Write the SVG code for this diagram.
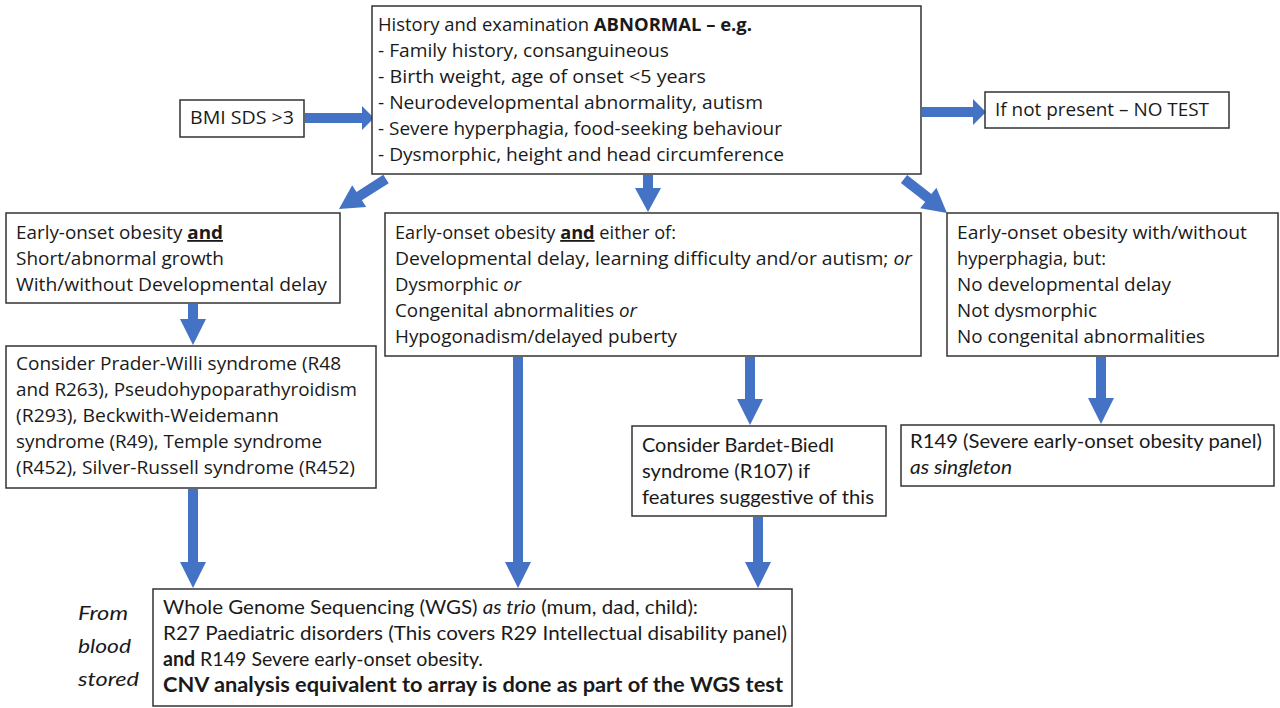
<svg xmlns="http://www.w3.org/2000/svg" width="1280" height="708" viewBox="0 0 1280 708">
<style>
.box{fill:#fff;stroke:#333;stroke-width:1.5}
.t{font-family:"Open Sans","DejaVu Sans",sans-serif;font-size:18px;fill:#1a1a1a}
.c{font-family:Lato,"Open Sans",sans-serif;font-size:20px;fill:#1a1a1a}
.b{font-weight:bold}
.i{font-style:italic}
.u{text-decoration:underline}
.arr{fill:#4472C4}
</style>
<rect width="1280" height="708" fill="#fff"/>
<g id="connectors">
<polygon class="arr" points="305,113 362,113 362,106 374,118 362,130 362,123 305,123"/>
<polygon class="arr" points="922,107 973,107 973,99 986,112 973,125 973,117 922,117"/>
<polygon class="arr" points="388.7,183.2 361.9,200.3 366.2,207 339,209 352.2,185.2 356.5,191.9 383.3,174.8"/>
<polygon class="arr" points="643,175 653,175 653,188 661,188 648,212 635,188 643,188"/>
<polygon class="arr" points="900.9,182.9 925.2,201.9 920.2,208.2 947,213 936.4,187.8 931.4,194.1 907.1,175.1"/>
<polygon class="arr" points="188,304 198,304 198,319 206,319 193,345 180,319 188,319"/>
<polygon class="arr" points="513,357 523,357 523,562 531,562 518,588 505,562 513,562"/>
<polygon class="arr" points="745,357 755,357 755,399 763,399 750,425 737,399 745,399"/>
<polygon class="arr" points="1096,357 1106,357 1106,398 1114,398 1101,424 1088,398 1096,398"/>
<polygon class="arr" points="188,489 198,489 198,562 206,562 193,588 180,562 188,562"/>
<polygon class="arr" points="753,517 763,517 763,562 771,562 758,588 745,562 753,562"/>
</g>
<g id="top">
<rect class="box" x="372" y="6" width="549" height="168"/>
<text class="t" x="378" y="31" textLength="374" lengthAdjust="spacingAndGlyphs">History and examination <tspan class="b">ABNORMAL – e.g.</tspan></text>
<text class="t" x="378" y="57" textLength="291" lengthAdjust="spacingAndGlyphs">- Family history, consanguineous</text>
<text class="t" x="378" y="83" textLength="328" lengthAdjust="spacingAndGlyphs">- Birth weight, age of onset &lt;5 years</text>
<text class="t" x="378" y="109" textLength="385" lengthAdjust="spacingAndGlyphs">- Neurodevelopmental abnormality, autism</text>
<text class="t" x="378" y="135" textLength="404" lengthAdjust="spacingAndGlyphs">- Severe hyperphagia, food-seeking behaviour</text>
<text class="t" x="378" y="161" textLength="406" lengthAdjust="spacingAndGlyphs">- Dysmorphic, height and head circumference</text>
</g>
<g id="bmi">
<rect class="box" x="180" y="100" width="124" height="37"/>
<text class="t" x="190" y="124" textLength="104" lengthAdjust="spacingAndGlyphs">BMI SDS &gt;3</text>
</g>
<g id="notest">
<rect class="box" x="985" y="92" width="244" height="36"/>
<text class="t" x="995" y="116" textLength="214" lengthAdjust="spacingAndGlyphs">If not present – NO TEST</text>
</g>
<g id="left">
<rect class="box" x="6" y="213" width="334" height="90"/>
<text class="t" x="16" y="239" textLength="207" lengthAdjust="spacingAndGlyphs">Early-onset obesity <tspan class="b u">and</tspan></text>
<text class="t" x="16" y="265" textLength="208" lengthAdjust="spacingAndGlyphs">Short/abnormal growth</text>
<text class="t" x="16" y="291" textLength="311" lengthAdjust="spacingAndGlyphs">With/without Developmental delay</text>
</g>
<g id="middle">
<rect class="box" x="385" y="213" width="536" height="143"/>
<text class="t" x="395" y="239" textLength="281" lengthAdjust="spacingAndGlyphs">Early-onset obesity <tspan class="b u">and</tspan> either of:</text>
<text class="t" x="395" y="265" textLength="517" lengthAdjust="spacingAndGlyphs">Developmental delay, learning difficulty and/or autism; <tspan class="i">or</tspan></text>
<text class="t" x="395" y="291" textLength="126" lengthAdjust="spacingAndGlyphs">Dysmorphic <tspan class="i">or</tspan></text>
<text class="t" x="395" y="317" textLength="242" lengthAdjust="spacingAndGlyphs">Congenital abnormalities <tspan class="i">or</tspan></text>
<text class="t" x="395" y="343" textLength="282" lengthAdjust="spacingAndGlyphs">Hypogonadism/delayed puberty</text>
</g>
<g id="right">
<rect class="box" x="947" y="213" width="331" height="143"/>
<text class="t" x="957" y="239" textLength="290" lengthAdjust="spacingAndGlyphs">Early-onset obesity with/without</text>
<text class="t" x="957" y="265" textLength="149" lengthAdjust="spacingAndGlyphs">hyperphagia, but:</text>
<text class="t" x="957" y="291" textLength="214" lengthAdjust="spacingAndGlyphs">No developmental delay</text>
<text class="t" x="957" y="317" textLength="140" lengthAdjust="spacingAndGlyphs">Not dysmorphic</text>
<text class="t" x="957" y="343" textLength="248" lengthAdjust="spacingAndGlyphs">No congenital abnormalities</text>
</g>
<g id="prader">
<rect class="box" x="6" y="346" width="370" height="142"/>
<text class="t" x="16" y="370" textLength="325" lengthAdjust="spacingAndGlyphs">Consider Prader-Willi syndrome (R48</text>
<text class="t" x="16" y="396" textLength="341" lengthAdjust="spacingAndGlyphs">and R263), Pseudohypoparathyroidism</text>
<text class="t" x="16" y="422" textLength="263" lengthAdjust="spacingAndGlyphs">(R293), Beckwith-Weidemann</text>
<text class="t" x="16" y="448" textLength="306" lengthAdjust="spacingAndGlyphs">syndrome (R49), Temple syndrome</text>
<text class="t" x="16" y="474" textLength="339" lengthAdjust="spacingAndGlyphs">(R452), Silver-Russell syndrome (R452)</text>
</g>
<g id="bardet">
<rect class="box" x="632" y="426" width="254" height="90"/>
<text class="c" x="642" y="452" textLength="192" lengthAdjust="spacingAndGlyphs">Consider Bardet-Biedl</text>
<text class="c" x="642" y="478" textLength="168" lengthAdjust="spacingAndGlyphs">syndrome (R107) if</text>
<text class="c" x="642" y="504" textLength="232" lengthAdjust="spacingAndGlyphs">features suggestive of this</text>
</g>
<g id="r149">
<rect class="box" x="901" y="425" width="373" height="61"/>
<text class="c" x="910" y="448" textLength="352" lengthAdjust="spacingAndGlyphs">R149 (Severe early-onset obesity panel)</text>
<text class="c i" x="910" y="474" textLength="102" lengthAdjust="spacingAndGlyphs">as singleton</text>
</g>
<g id="wgs">
<rect class="box" x="153" y="589" width="639" height="117"/>
<text class="c" x="163" y="614" textLength="535" lengthAdjust="spacingAndGlyphs">Whole Genome Sequencing (WGS) <tspan class="i">as trio</tspan> (mum, dad, child):</text>
<text class="c" x="163" y="640" textLength="624" lengthAdjust="spacingAndGlyphs">R27 Paediatric disorders (This covers R29 Intellectual disability panel)</text>
<text class="c" x="163" y="666" textLength="320" lengthAdjust="spacingAndGlyphs"><tspan class="b">and</tspan> R149 Severe early-onset obesity.</text>
<text class="c b" x="163" y="692" textLength="620" lengthAdjust="spacingAndGlyphs">CNV analysis equivalent to array is done as part of the WGS test</text>
</g>
<g id="note">
<text class="c i" x="78" y="620" font-size="23" textLength="50" lengthAdjust="spacingAndGlyphs">From</text>
<text class="c i" x="78" y="653" font-size="23" textLength="53" lengthAdjust="spacingAndGlyphs">blood</text>
<text class="c i" x="78" y="686" font-size="23" textLength="61" lengthAdjust="spacingAndGlyphs">stored</text>
</g>
</svg>
